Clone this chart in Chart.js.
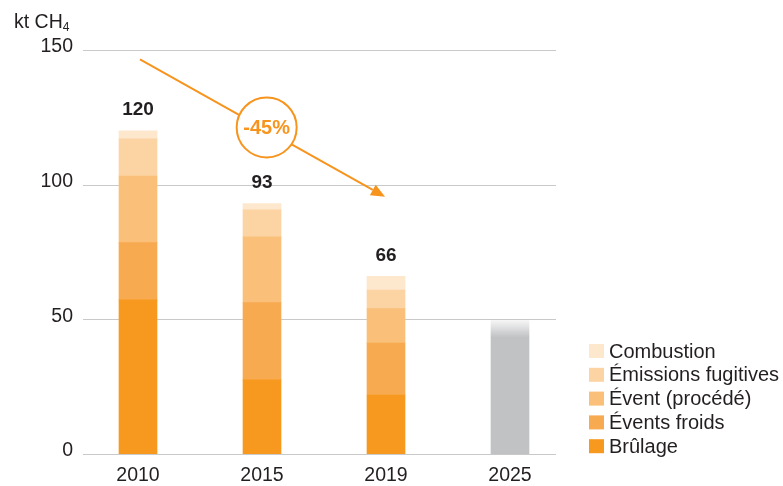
<!DOCTYPE html>
<html lang="fr">
<head>
    <meta charset="UTF-8">
    <title>Émissions de méthane</title>
    <script src="https://cdn.jsdelivr.net/npm/chart.js"></script>
    <style>
        body { margin: 0; background: #fff; }
        .chart-wrapper { width: 783px; height: 486px; }
    </style>
</head>
<body>
    <div class="chart-wrapper">
        <canvas id="methaneChart"></canvas>
    </div>

    <script>
        // données (kt CH4)
        const years = ['2010', '2015', '2019', '2025'];
        const brulage = [57.2, 27.5, 21.9, null];
        const eventsFroids = [21.3, 28.7, 19.3, null];
        const eventProcede = [24.7, 24.4, 12.8, null];
        const emissionsFugitives = [13.8, 10.1, 6.9, null];
        const combustion = [3.0, 2.3, 5.1, null];
        const objectif2025 = [null, null, null, 50];
        const yTicks = [0, 50, 100, 150];
        const unitLabel = 'kt CH';
        const unitSub = '4';
        const reductionLabel = '-45%';
        // flèche de tendance : de 2010 à 2019 (valeurs sur l'axe)
        const arrowFrom = { x: 0, y: 146.5 };
        const arrowTo = { x: 2, y: 95.5 };

        const FONT = '"Liberation Sans", Arial, Helvetica, sans-serif';
        const TEXT = '#231f20';
        const ORANGE = '#f7941e';
        const GREY = 'rgb(193,194,196)';

        function greyFade(context) {
            const chart = context.chart;
            if (!chart.chartArea) return GREY;
            const top = chart.scales.y.getPixelForValue(50);
            const g = chart.ctx.createLinearGradient(0, top, 0, top + 18);
            g.addColorStop(0, 'rgba(193,194,196,0.1)');
            g.addColorStop(1, GREY);
            return g;
        }

        const decor = {
            id: 'decor',
            beforeDatasetsDraw(chart) {
                const c = chart.ctx, y = chart.scales.y;
                c.save();
                c.strokeStyle = '#c9c9c9';
                c.lineWidth = 1;
                yTicks.forEach(v => {
                    const py = Math.round(y.getPixelForValue(v)) + 0.5;
                    c.beginPath();
                    c.moveTo(83, py);
                    c.lineTo(556, py);
                    c.stroke();
                });
                c.restore();
            },
            afterDatasetsDraw(chart) {
                const c = chart.ctx, x = chart.scales.x, y = chart.scales.y;
                const ds = chart.data.datasets;
                c.save();

                // totaux au-dessus des barres
                c.font = 'bold 19px ' + FONT;
                c.fillStyle = TEXT;
                c.textAlign = 'center';
                c.textBaseline = 'alphabetic';
                years.forEach((yr, i) => {
                    let total = 0, has = false;
                    for (let d = 0; d < 5; d++) {
                        if (ds[d].data[i] != null) { total += ds[d].data[i]; has = true; }
                    }
                    if (!has) return;
                    c.fillText(Math.round(total), x.getPixelForValue(i), y.getPixelForValue(total) - 15.5);
                });

                // flèche -45 %
                const x0 = x.getPixelForValue(arrowFrom.x) + 2, y0 = y.getPixelForValue(arrowFrom.y);
                const x1 = x.getPixelForValue(arrowTo.x) - 1, y1 = y.getPixelForValue(arrowTo.y);
                const ang = Math.atan2(y1 - y0, x1 - x0);
                const head = 14;
                c.strokeStyle = ORANGE;
                c.fillStyle = ORANGE;
                c.lineWidth = 2;
                c.beginPath();
                c.moveTo(x0, y0);
                c.lineTo(x1 - head * Math.cos(ang), y1 - head * Math.sin(ang));
                c.stroke();
                c.beginPath();
                c.moveTo(x1, y1);
                c.lineTo(x1 - head * Math.cos(ang) + 6 * Math.sin(ang), y1 - head * Math.sin(ang) - 6 * Math.cos(ang));
                c.lineTo(x1 - head * Math.cos(ang) - 6 * Math.sin(ang), y1 - head * Math.sin(ang) + 6 * Math.cos(ang));
                c.closePath();
                c.fill();

                const t = 0.517;
                const cx = x0 + t * (x1 - x0), cy = y0 + t * (y1 - y0) - 3;
                c.beginPath();
                c.arc(cx, cy, 30, 0, Math.PI * 2);
                c.fillStyle = '#fff';
                c.fill();
                c.stroke();
                c.fillStyle = ORANGE;
                c.font = 'bold 20px ' + FONT;
                c.textAlign = 'center';
                c.textBaseline = 'middle';
                c.fillText(reductionLabel, cx, cy + 1);

                // légende
                c.textAlign = 'left';
                c.textBaseline = 'middle';
                c.font = '20px ' + FONT;
                for (let i = 0; i < 5; i++) {
                    const d = ds[4 - i];
                    const cyL = 351 + 23.8 * i;
                    c.fillStyle = d.backgroundColor;
                    c.fillRect(589, cyL - 7, 15, 14);
                    c.fillStyle = TEXT;
                    c.fillText(d.label, 609, cyL + 1);
                }

                // unité
                c.font = '19.5px ' + FONT;
                c.textBaseline = 'alphabetic';
                c.fillText(unitLabel, 14, 27.5);
                const w = c.measureText(unitLabel).width;
                c.font = '12px ' + FONT;
                c.fillText(unitSub, 14 + w, 31);

                c.restore();
            }
        };

        const common = { stack: 's', barThickness: 38, borderWidth: 0 };

        new Chart(document.getElementById('methaneChart'), {
            type: 'bar',
            data: {
                labels: years,
                datasets: [
                    { label: 'Brûlage', data: brulage, backgroundColor: '#f7981f', ...common },
                    { label: 'Évents froids', data: eventsFroids, backgroundColor: '#f8aa50', ...common },
                    { label: 'Évent (procédé)', data: eventProcede, backgroundColor: '#fabf78', ...common },
                    { label: 'Émissions fugitives', data: emissionsFugitives, backgroundColor: '#fcd4a4', ...common },
                    { label: 'Combustion', data: combustion, backgroundColor: '#fde7cd', ...common },
                    { label: 'Objectif 2025', data: objectif2025, backgroundColor: greyFade, ...common }
                ]
            },
            options: {
                responsive: true,
                maintainAspectRatio: false,
                animation: false,
                layout: { padding: { top: 50, right: 211, bottom: 0, left: 0 } },
                plugins: {
                    legend: { display: false },
                    tooltip: { enabled: false }
                },
                scales: {
                    x: {
                        stacked: true,
                        grid: { display: false, drawTicks: false },
                        border: { display: false },
                        ticks: { color: TEXT, font: { family: FONT, size: 19.5 }, padding: 10 },
                        afterFit: s => { s.height = 32; }
                    },
                    y: {
                        stacked: true,
                        min: 0,
                        max: 150,
                        grid: { display: false, drawTicks: false },
                        border: { display: false },
                        ticks: { stepSize: 50, color: TEXT, font: { family: FONT, size: 19.5 }, padding: 3, labelOffset: -3 },
                        afterFit: s => { s.width = 76; }
                    }
                }
            },
            plugins: [decor]
        });
    </script>
</body>
</html>
